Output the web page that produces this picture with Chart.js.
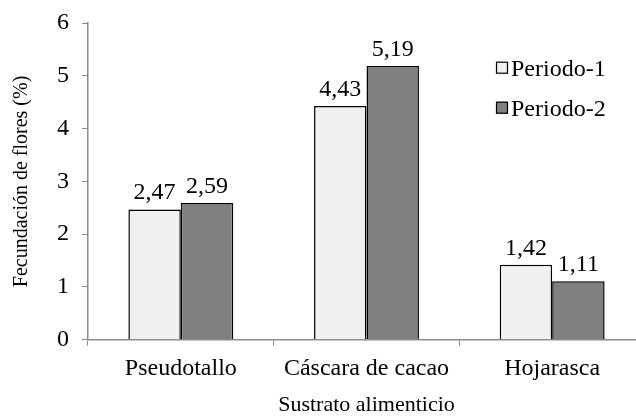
<!DOCTYPE html>
<html>
<head>
<meta charset="utf-8">
<script src="https://cdn.jsdelivr.net/npm/chart.js@4.4.0/dist/chart.umd.min.js"></script>
<style>
  html, body { margin: 0; padding: 0; overflow: hidden; background: #fff; }
  #wrap { width: 660px; height: 418px; position: relative; }
</style>
</head>
<body>
<div id="wrap"><canvas id="myChart"></canvas></div>
<script>
const categories = ['Pseudotallo', 'Cáscara de cacao', 'Hojarasca'];
const periodo1 = [2.47, 4.43, 1.42];
const periodo2 = [2.59, 5.19, 1.11];
const yTicks = [0, 1, 2, 3, 4, 5, 6];

const serif = '"Liberation Serif", "Times New Roman", serif';
const axisGray = '#8c8c8c';

// valores encima de las barras + leyenda dentro del area
const etiquetas = {
  id: 'etiquetas',
  afterDatasetsDraw(chart) {
    const ctx = chart.ctx;
    const area = chart.chartArea;
    ctx.save();
    ctx.font = '24px ' + serif;
    ctx.fillStyle = '#000';
    ctx.textAlign = 'center';
    ctx.textBaseline = 'alphabetic';
    chart.data.datasets.forEach((ds, i) => {
      chart.getDatasetMeta(i).data.forEach((bar, j) => {
        ctx.fillText(ds.data[j].toFixed(2).replace('.', ','), bar.x, bar.y - 10);
      });
    });

    ctx.textAlign = 'left';
    ctx.textBaseline = 'alphabetic';
    chart.data.datasets.forEach((ds, i) => {
      const x = area.left + 408;
      const y = area.top + 44.5 + i * 40;
      ctx.fillStyle = ds.backgroundColor;
      ctx.fillRect(x, y - 6, 12, 12);
      ctx.strokeStyle = '#000';
      ctx.lineWidth = 1.2;
      ctx.strokeRect(x + 0.5, y - 5.5, 11, 11);
      ctx.fillStyle = '#000';
      ctx.fillText(ds.label, x + 15, y + 8);
    });
    ctx.restore();
  }
};

new Chart(document.getElementById('myChart'), {
  type: 'bar',
  data: {
    labels: categories,
    datasets: [{
      label: 'Periodo-1',
      data: periodo1,
      backgroundColor: '#f0f0f0',
      borderColor: '#000',
      borderWidth: 1.5,
      categoryPercentage: 0.565,
      barPercentage: 1
    }, {
      label: 'Periodo-2',
      data: periodo2,
      backgroundColor: '#808080',
      borderColor: '#000',
      borderWidth: 1.5,
      categoryPercentage: 0.565,
      barPercentage: 1
    }]
  },
  options: {
    responsive: true,
    maintainAspectRatio: false,
    animation: false,
    layout: { padding: { top: 0, left: 10, right: 15, bottom: 0 } },
    plugins: {
      legend: { display: false },
      tooltip: { enabled: false }
    },
    scales: {
      x: {
        grid: { drawOnChartArea: false, drawTicks: true, tickLength: 6, color: axisGray, offset: true },
        border: { color: axisGray, width: 1.5 },
        ticks: { color: '#000', font: { family: serif, size: 24, lineHeight: 1.08 }, padding: 10, maxRotation: 0 },
        title: { display: true, text: 'Sustrato alimenticio', color: '#000', font: { family: serif, size: 22 }, padding: { top: 0, bottom: 0 } }
      },
      y: {
        min: yTicks[0],
        max: yTicks[yTicks.length - 1],
        ticks: { stepSize: 1, color: '#000', font: { family: serif, size: 24, lineHeight: 0.85 }, padding: 13 },
        grid: { drawOnChartArea: false, drawTicks: true, tickLength: 6, color: axisGray },
        border: { color: axisGray, width: 1.5 },
        title: { display: true, text: 'Fecundación de flores (%)', color: '#000', font: { family: serif, size: 20 }, padding: { top: 0, bottom: 10 } }
      }
    }
  },
  plugins: [etiquetas]
});
</script>
</body>
</html>
